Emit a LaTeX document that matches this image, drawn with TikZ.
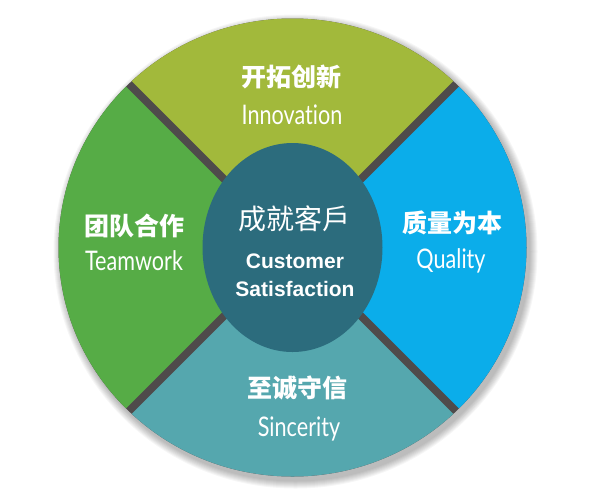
\documentclass[tikz,border=0pt]{standalone}
\usepackage{fontspec}
\setmainfont{Liberation Sans}
\newfontfamily\cjk{Noto Sans CJK SC}
\newfontfamily\latn[FakeStretch=0.8,Ligatures={NoCommon,NoDiscretionary,NoRare}]{Lato}
\definecolor{olive}{HTML}{A2B93B}
\definecolor{leaf}{HTML}{56AC46}
\definecolor{sky}{HTML}{0BADEA}
\definecolor{seateal}{HTML}{55A7AE}
\definecolor{core}{HTML}{2C6C7D}
\definecolor{gapgray}{HTML}{4F4B4B}
\tikzset{
  cntitle/.style={text=white, font=\cjk\bfseries\fontsize{25}{28}\selectfont, inner sep=0pt},
  entitle/.style={text=white, font=\latn\fontsize{27}{30}\selectfont, inner sep=0pt},
  coretitle/.style={text=white, font=\cjk\fontsize{28}{32}\selectfont, inner sep=0pt},
  coresub/.style={text=white, font=\bfseries\fontsize{21}{24}\selectfont, inner sep=0pt}
}
\begin{document}
\begin{tikzpicture}[x=1pt,y=-1pt]
\useasboundingbox (0,0) rectangle (597,491);
\fill[white] (0,0) rectangle (597,491);
\coordinate (c) at (292.5,247.5);
% soft shadow
\foreach \k in {1,...,8}{
  \fill[black,opacity=0.035] ([shift={(3,4)}]c) ellipse [x radius=234+\k, y radius=229+\k];
}
% base (gaps)
\fill[gapgray] (c) ellipse [x radius=234, y radius=229];
% top segment
\begin{scope}
  \clip ([shift={(0,-5.7)}]c) -- ++(-400,-400) -- ++(800,0) -- cycle;
  \fill[olive] (c) ellipse [x radius=234, y radius=229];
\end{scope}
% bottom segment
\begin{scope}
  \clip ([shift={(0,5.7)}]c) -- ++(-400,400) -- ++(800,0) -- cycle;
  \fill[seateal] (c) ellipse [x radius=234, y radius=229];
\end{scope}
% left segment
\begin{scope}
  \clip ([shift={(-5.7,0)}]c) -- ++(-400,-400) -- ++(0,800) -- cycle;
  \fill[leaf] (c) ellipse [x radius=234, y radius=229];
\end{scope}
% right segment
\begin{scope}
  \clip ([shift={(5.7,0)}]c) -- ++(400,-400) -- ++(0,800) -- cycle;
  \fill[sky] (c) ellipse [x radius=234, y radius=229];
\end{scope}
% core
\fill[core] (c) ellipse [x radius=90, y radius=104.5];
% texts
\node[cntitle] (t1) at (291,77) {开拓创新};
\node[entitle] (e1) at (292,115) {Innovation};
\node[cntitle] (t2) at (134,226) {团队合作};
\node[entitle] (e2) at (134,261) {Teamwork};
\node[cntitle] (t3) at (452,223) {质量为本};
\node[entitle] (e3) at (451,261) {Quality};
\node[cntitle] (t4) at (297,388) {至诚守信};
\node[entitle] (e4) at (299,429) {Sincerity};
\node[coretitle] (k0) at (294,219) {成就客戶};
\node[coresub] (k1) at (295,261) {Customer};
\node[coresub] (k2) at (295,289) {Satisfaction};
\end{tikzpicture}
\end{document}
